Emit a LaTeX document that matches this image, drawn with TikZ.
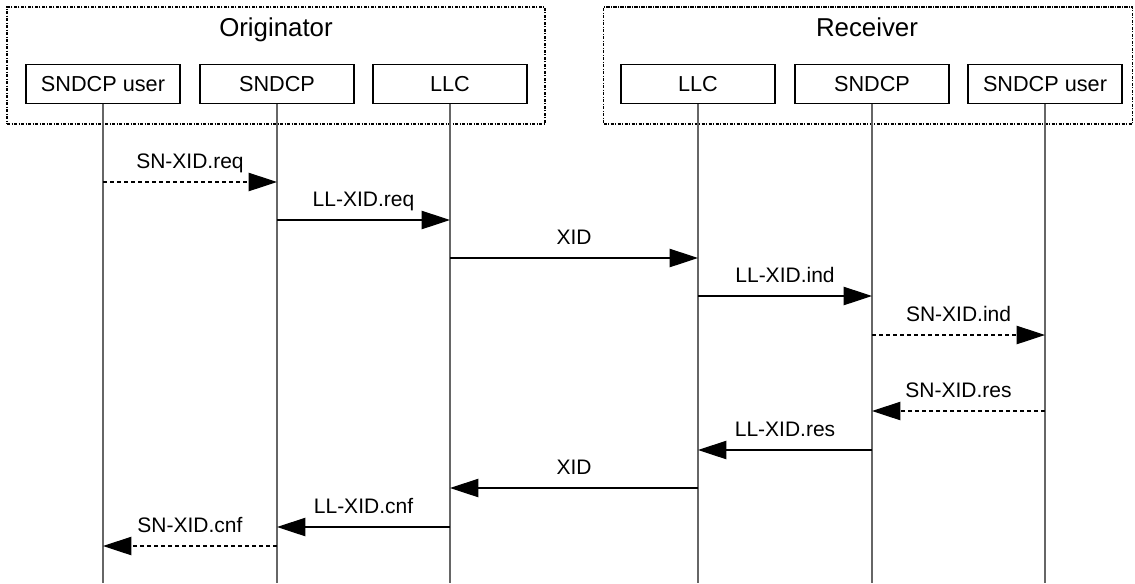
\documentclass[tikz,border=0pt]{standalone}
\usepackage{fontspec}
\setmainfont{Liberation Sans}
\usetikzlibrary{arrows.meta}

\begin{document}
\begin{tikzpicture}[x=0.6pt, y=-0.6pt, every node/.style={font=\fontsize{12.6}{15}\selectfont}, entity/.style={draw, fill=white, line width=0.8pt, minimum width=92.4pt, minimum height=23.4pt, inner sep=0pt, font=\fontsize{13}{15}\selectfont}, group/.style={draw, line width=0.8pt, dash pattern=on 2pt off 0.8pt on 0.6pt off 0.8pt, minimum height=70.2pt, inner sep=0pt}, title/.style={font=\fontsize{15.5}{18}\selectfont, anchor=base, inner sep=0pt}, life/.style={draw=black!60, line width=0.8pt}, msg/.style={-{Triangle[length=17pt, width=11pt]}, line width=0.7pt}, lbl/.style={midway, anchor=base, yshift=8pt, inner sep=0pt}, sig/.style={dash pattern=on 2.6pt off 1.6pt}]
\useasboundingbox (0,0) rectangle (1135,583);
% groups
\node[group, minimum width=322.8pt] (orig) at (276,65.5) {};
\node[group, minimum width=317.4pt] (recv) at (868,65.5) {};
\node[title] (origtitle) at (276,36) {Originator};
\node[title] (recvtitle) at (867,36) {Receiver};
% entities
\node[entity] (ouser) at (103,84) {SNDCP user};
\node[entity] (osn) at (277,84) {SNDCP};
\node[entity] (ollc) at (450,84) {LLC};
\node[entity] (rllc) at (698,84) {LLC};
\node[entity] (rsn) at (872,84) {SNDCP};
\node[entity] (ruser) at (1045,84) {SNDCP user};
% lifelines
\coordinate (bottom) at (0,583);
\draw[life] (ouser.south) -- (ouser.south |- bottom);
\draw[life] (osn.south) -- (osn.south |- bottom);
\draw[life] (ollc.south) -- (ollc.south |- bottom);
\draw[life] (rllc.south) -- (rllc.south |- bottom);
\draw[life] (rsn.south) -- (rsn.south |- bottom);
\draw[life] (ruser.south) -- (ruser.south |- bottom);
% message rows
\coordinate (m1) at (0,182); \coordinate (m2) at (0,220); \coordinate (m3) at (0,258);
\coordinate (m4) at (0,296); \coordinate (m5) at (0,335); \coordinate (m6) at (0,411);
\coordinate (m7) at (0,450); \coordinate (m8) at (0,488); \coordinate (m9) at (0,527);
\coordinate (m10) at (0,546);
% messages
\draw[msg, sig] (ouser.south |- m1) -- (osn.south |- m1) node[lbl] {SN-XID.req};
\draw[msg] (osn.south |- m2) -- (ollc.south |- m2) node[lbl] {LL-XID.req};
\draw[msg] (ollc.south |- m3) -- (rllc.south |- m3) node[lbl] {XID};
\draw[msg] (rllc.south |- m4) -- (rsn.south |- m4) node[lbl] {LL-XID.ind};
\draw[msg, sig] (rsn.south |- m5) -- (ruser.south |- m5) node[lbl] {SN-XID.ind};
\draw[msg, sig] (ruser.south |- m6) -- (rsn.south |- m6) node[lbl] {SN-XID.res};
\draw[msg] (rsn.south |- m7) -- (rllc.south |- m7) node[lbl] {LL-XID.res};
\draw[msg] (rllc.south |- m8) -- (ollc.south |- m8) node[lbl] {XID};
\draw[msg] (ollc.south |- m9) -- (osn.south |- m9) node[lbl] {LL-XID.cnf};
\draw[msg, sig] (osn.south |- m10) -- (ouser.south |- m10) node[lbl] {SN-XID.cnf};
\end{tikzpicture}
\end{document}
